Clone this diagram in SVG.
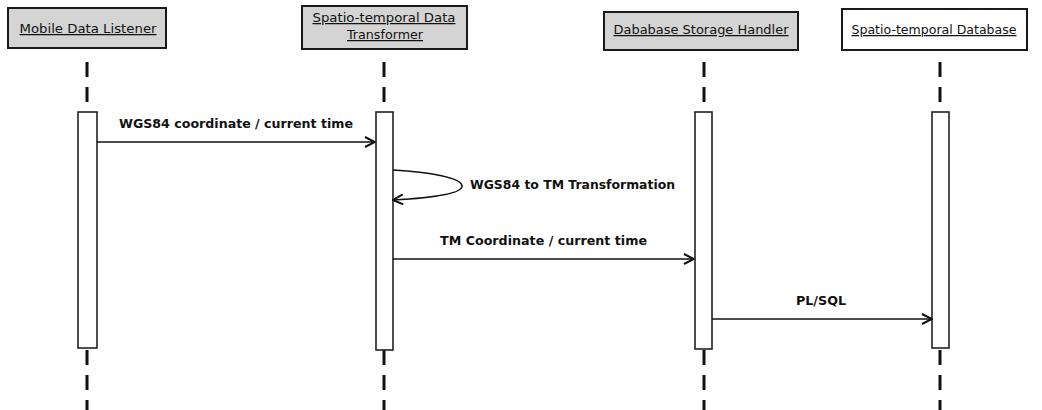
<svg xmlns="http://www.w3.org/2000/svg" width="1042" height="410" viewBox="0 0 1042 410">
<style>
.hd{fill:#d4d4d4;stroke:#1a1a1a;stroke-width:2}
.hdw{fill:#ffffff;stroke:#1a1a1a;stroke-width:2}
.ht{font-family:"DejaVu Sans",sans-serif;font-size:12.5px;fill:#111;text-decoration:underline;text-anchor:middle}
.life{stroke:#111;stroke-width:3;stroke-dasharray:15 10;fill:none}
.bar{fill:#fff;stroke:#222;stroke-width:1.6}
.msg{stroke:#111;stroke-width:1.6;fill:none}
.lb{font-family:"DejaVu Sans",sans-serif;font-size:11.5px;font-weight:bold;fill:#111}
</style>
<defs>
<marker id="ah" viewBox="0 0 12 12" refX="11" refY="6" markerWidth="12" markerHeight="12" markerUnits="userSpaceOnUse" orient="auto">
<path d="M1 1 L11 6 L1 11" fill="none" stroke="#111" stroke-width="2"/>
</marker>
</defs>
<g id="lifelines">
<line class="life" x1="87" y1="62" x2="87" y2="103"/>
<line class="life" x1="87" y1="350" x2="87" y2="410"/>
<line class="life" x1="384" y1="62" x2="384" y2="103"/>
<line class="life" x1="384" y1="350" x2="384" y2="410"/>
<line class="life" x1="704" y1="62" x2="704" y2="103"/>
<line class="life" x1="704" y1="350" x2="704" y2="410"/>
<line class="life" x1="940" y1="62" x2="940" y2="103"/>
<line class="life" x1="940" y1="350" x2="940" y2="410"/>
</g>
<g id="mobile">
<rect class="hd" x="8" y="8" width="158" height="40"/>
<text class="ht" x="88" y="33" textLength="137" lengthAdjust="spacingAndGlyphs">Mobile Data Listener</text>
<rect class="bar" x="78" y="112" width="19" height="236"/>
</g>
<g id="transformer">
<rect class="hd" x="302" y="6" width="165" height="43"/>
<text class="ht" x="384" y="22" textLength="143" lengthAdjust="spacingAndGlyphs">Spatio-temporal Data</text>
<text class="ht" x="385" y="39" textLength="76" lengthAdjust="spacingAndGlyphs">Transformer</text>
<rect class="bar" x="376" y="112" width="17" height="238"/>
</g>
<g id="handler">
<rect class="hd" x="604" y="12" width="194" height="38"/>
<text class="ht" x="701" y="34" textLength="175" lengthAdjust="spacingAndGlyphs">Dababase Storage Handler</text>
<rect class="bar" x="695" y="112" width="17" height="237"/>
</g>
<g id="database">
<rect class="hdw" x="842" y="9" width="185" height="41"/>
<text class="ht" x="934" y="34" textLength="165" lengthAdjust="spacingAndGlyphs">Spatio-temporal Database</text>
<rect class="bar" x="932" y="112" width="17" height="236"/>
</g>
<g id="connectors">
<line class="msg" x1="97" y1="142" x2="375" y2="142" marker-end="url(#ah)"/>
<text class="lb" x="119" y="128" textLength="234" lengthAdjust="spacingAndGlyphs">WGS84 coordinate / current time</text>
<path class="msg" d="M393 170 C430 172 462 178 462 186 C462 194 430 198 393 200" marker-end="url(#ah)"/>
<text class="lb" x="470" y="189" textLength="205" lengthAdjust="spacingAndGlyphs">WGS84 to TM Transformation</text>
<line class="msg" x1="393" y1="259" x2="694" y2="259" marker-end="url(#ah)"/>
<text class="lb" x="440" y="245" textLength="207" lengthAdjust="spacingAndGlyphs">TM Coordinate / current time</text>
<line class="msg" x1="712" y1="319" x2="932" y2="319" marker-end="url(#ah)"/>
<text class="lb" x="796" y="305" textLength="50" lengthAdjust="spacingAndGlyphs">PL/SQL</text>
</g>
</svg>
